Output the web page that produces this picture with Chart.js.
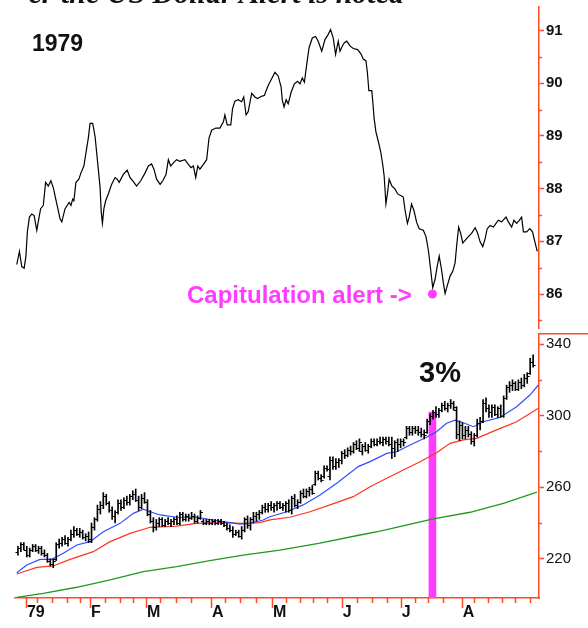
<!DOCTYPE html>
<html><head><meta charset="utf-8">
<script src="https://cdn.jsdelivr.net/npm/chart.js@4.4.1/dist/chart.umd.min.js"></script>
<style>
html,body{margin:0;padding:0;background:#fff;}
#wrap{position:relative;width:588px;height:628px;overflow:hidden;background:#fff;}
canvas{position:absolute;left:0;}
.t{position:absolute;line-height:1;white-space:nowrap;font-family:"Liberation Sans",Arial,sans-serif;font-weight:bold;}
</style></head>
<body><div id="wrap">
<canvas id="topC" width="588" height="333" style="top:0"></canvas>
<canvas id="botC" width="588" height="295" style="top:333px"></canvas>
<div class="t" style="right:184px;top:-22px;font-family:'Liberation Serif',serif;font-style:italic;font-size:30px;color:#111;">er the US Dollar Alert is noted</div>
<div class="t" style="left:32px;top:32px;font-size:23px;color:#111;">1979</div>
<div class="t" style="left:187px;top:283px;font-size:24px;color:#ff3cff;">Capitulation alert -&gt;</div>
<div class="t" style="left:419px;top:358px;font-size:29px;color:#111;">3%</div>
</div>
<script>
// ---- data (x = trading-day index) ----
const dollarDay = [0.6,1.5,2.3,3.1,3.7,4.2,4.9,5.7,6.5,7.4,7.9,8.7,9.6,10.4,11.3,12.2,13.0,14.2,15.3,15.9,17.0,18.4,19.0,19.6,20.0,20.7,21.7,22.4,23.4,24.1,24.9,25.5,26.4,27.2,27.8,28.3,28.9,29.3,29.7,30.2,30.8,31.7,32.8,34.0,34.7,35.4,36.8,38.1,39.1,40.4,41.3,42.7,44.2,45.3,46.4,47.2,48.1,49.3,50.2,51.3,52.1,52.9,53.8,54.9,56.0,57.7,58.9,59.8,60.6,61.4,62.1,62.8,64.0,65.1,65.9,66.8,68.2,69.6,70.8,71.3,72.1,73.3,73.9,74.7,75.8,77.0,77.7,78.5,79.2,80.4,81.5,82.4,83.6,84.7,86.0,87.4,88.3,89.4,90.4,90.8,91.4,92.1,92.8,93.8,94.9,96.0,96.8,97.6,98.3,99.1,99.9,101.0,102.1,103.0,104.2,105.3,106.4,107.2,108.1,108.9,109.8,110.4,111.2,111.9,112.7,113.8,114.9,116.4,117.5,118.3,119.2,119.7,120.2,121.2,121.5,122.0,122.6,123.4,124.2,124.9,125.4,126.0,126.5,127.1,128.0,129.1,130.0,131.0,131.9,132.5,133.3,133.9,134.7,135.5,136.4,137.3,138.7,139.6,140.4,141.2,141.9,142.7,143.4,144.1,144.9,145.5,146.1,146.8,147.8,148.7,149.5,150.0,150.7,151.4,152.1,152.9,154.0,155.1,156.3,157.0,158.0,158.9,159.7,160.4,161.4,162.5,163.4,164.2,165.3,166.8,167.6,168.7,169.5,170.4,171.3,172.1,172.7,173.8,174.9,175.8,176.6,177.4];
const dollarValue = [86.56,86.81,86.52,86.49,86.71,87.18,87.46,87.52,87.49,87.21,87.37,87.62,87.68,88.12,88.05,88.15,88.02,87.71,87.43,87.37,87.62,87.74,87.68,87.80,87.77,88.12,88.18,88.30,88.43,88.68,88.96,89.24,89.24,88.99,88.65,88.37,88.02,87.55,87.34,87.62,87.77,87.90,88.08,88.21,88.18,88.12,88.27,88.35,88.21,88.12,88.05,88.15,88.30,88.43,88.47,88.37,88.18,88.08,88.15,88.27,88.55,88.43,88.49,88.55,88.52,88.55,88.46,88.40,88.43,88.21,88.43,88.37,88.46,88.55,88.96,89.11,89.15,89.15,89.27,89.40,89.21,89.21,89.52,89.66,89.69,89.65,89.74,89.40,89.46,89.81,89.74,89.71,89.75,89.77,89.96,90.11,90.21,90.14,89.93,89.68,89.55,89.69,89.61,89.83,89.99,90.04,89.99,90.10,90.02,90.36,90.68,90.86,90.89,90.80,90.61,90.83,90.93,91.02,90.86,90.55,90.80,90.61,90.71,90.77,90.80,90.71,90.66,90.64,90.56,90.46,90.43,90.21,89.86,89.86,89.68,89.33,89.08,88.90,88.71,88.46,88.24,87.71,87.90,88.18,88.05,87.99,87.90,87.87,87.84,87.59,87.34,87.46,87.71,87.59,87.37,87.24,87.21,87.09,86.84,86.46,86.12,86.28,86.52,86.72,86.46,86.21,86.01,86.15,86.34,86.43,86.59,86.90,87.27,87.15,86.97,87.02,87.09,87.15,87.26,87.18,86.99,86.90,87.05,87.24,87.30,87.27,87.34,87.40,87.37,87.46,87.37,87.27,87.40,87.34,87.40,87.46,87.18,87.18,87.24,87.18,86.99,86.81];

const barOpen  = [224,226,228,225,222,225,227,225,226,223,222,219,217,220,228,229,231,229,231,234,236,234,235,232,233,230,238,242,248,250,255,251,247,244,246,251,249,253,252,255,256,253,249,254,252,245,241,238,240,242,239,241,240,241,242,240,245,242,244,243,244,241,243,241,240,241,240,241,240,241,240,239,237,236,234,235,233,236,242,239,242,244,245,246,249,248,250,249,250,251,249,250,251,247,254,250,252,257,255,258,259,262,268,265,266,271,266,275,272,274,275,279,278,281,280,284,282,280,283,281,283,286,284,286,285,287,286,284,282,285,284,286,288,293,291,293,292,291,290,291,297,300,302,301,303,306,304,306,307,303,290,295,289,292,290,286,289,296,297,307,304,302,305,301,304,300,310,316,317,318,315,319,317,321,324,330];
const barHigh  = [227,229,229,227,226,228,228,227,227,225,223,220,220,229,231,232,233,232,236,238,237,237,236,234,235,240,243,250,252,257,256,252,249,247,253,253,254,255,256,258,259,255,256,257,253,247,243,242,243,243,242,243,242,243,244,246,246,245,245,246,245,244,247,242,242,242,242,242,242,242,241,240,239,238,236,236,238,243,244,243,246,246,247,250,251,251,252,251,252,252,251,252,253,255,256,253,258,259,259,260,261,269,269,267,272,272,277,277,276,276,280,281,282,283,285,286,287,284,285,284,287,287,287,288,288,288,288,288,286,287,287,287,294,294,294,294,294,293,292,298,301,303,305,304,307,308,307,309,308,305,297,296,294,294,291,290,298,299,309,310,306,306,306,305,306,311,317,319,320,319,320,321,323,324,332,334];
const barLow   = [222,224,225,221,221,224,224,223,222,221,218,216,215,219,226,227,228,227,230,232,233,232,231,230,229,229,236,241,245,248,250,246,242,240,245,247,248,250,250,253,252,247,248,251,244,240,235,236,238,238,238,239,238,239,239,239,241,241,241,242,240,240,242,239,239,239,239,239,239,239,238,236,235,232,233,232,231,235,237,236,240,241,242,245,246,246,247,246,247,248,247,246,246,245,249,248,251,254,254,255,256,261,264,263,265,269,264,270,270,271,273,276,277,278,279,281,280,278,280,279,282,283,283,284,283,284,283,276,277,280,282,283,287,289,289,290,289,288,287,290,295,298,299,299,302,303,302,304,303,287,286,287,287,288,284,283,288,292,296,302,299,299,300,299,299,299,309,313,314,314,314,315,316,318,323,327];
const barClose = [226,228,225,222,225,227,225,226,223,222,219,217,219,228,229,231,229,231,234,236,234,235,232,233,231,238,242,248,250,255,251,247,244,246,251,249,253,252,255,256,253,249,254,252,245,241,238,240,242,239,241,240,241,242,240,245,242,244,243,244,241,243,246,240,241,240,241,240,241,240,239,237,236,234,235,233,236,242,239,242,244,245,246,249,248,250,249,250,251,249,250,251,247,254,250,252,257,255,258,259,257,268,265,264,271,270,275,272,274,275,279,278,281,280,284,282,285,283,281,283,286,284,286,285,287,286,284,282,285,284,286,285,293,291,293,292,291,290,289,297,300,302,301,303,306,304,306,307,305,290,295,289,292,290,286,289,296,297,307,304,302,305,301,304,300,310,316,317,318,315,319,317,321,322,330,328];

const blueDay   = [0.6,4.0,8.5,12.5,16.4,21.0,25.5,30.0,35.7,40.2,43.6,45.9,49.3,54.9,61.7,68.5,73.0,76.4,79.8,84.3,86.6,92.3,97.9,103.6,109.3,116.6,120.6,126.3,129.7,134.2,139.8,143.2,146.6,149.5,152.3,155.7,159.1,164.7,170.4,174.9,177.8];
const blueValue = [212.2,216.5,219.7,219.7,223.1,227.7,229.6,235.1,239.8,245.4,247.7,246.3,244.5,243.2,243.2,241.3,240.2,239.4,239.8,241.7,243.5,246.3,250.1,255.6,262.2,271.5,274.3,278.9,279.8,283.6,287.9,291.0,295.7,297.5,296.0,293.8,296.6,299.0,305.0,311.5,317.1];
const redDay    = [0.6,7.4,13.0,18.7,26.6,32.3,39.1,45.9,54.9,61.7,70.8,77.5,83.2,86.6,93.4,100.2,107.0,114.9,120.6,126.3,131.9,137.6,143.2,147.8,152.3,156.8,163.6,170.4,177.8];
const redValue  = [211.5,215.2,216.0,219.7,224.0,229.6,234.2,237.6,238.3,239.8,240.2,239.8,240.2,241.7,243.2,246.3,250.1,254.7,260.3,265.0,269.6,274.2,279.3,284.5,286.4,287.3,292.0,296.6,304.1];
const greenDay  = [0.6,9.6,21.0,32.3,43.6,54.9,66.2,77.5,90.0,103.6,117.2,124.0,142.1,154.6,165.9,177.3];
const greenValue= [198.5,200.7,204.1,208.2,212.8,215.6,219.0,222.1,224.9,228.7,233.3,235.5,242.3,246.0,251.0,257.2];

const alertDay = 141.8;        // capitulation alert day
const alertValue = 86.0;       // dollar level of the alert dot
const alertBarTop = 302;       // top of the magenta 3% marker

const monthTicks  = [3.7,25.5,44.5,66.6,87.3,111.0,131.0,151.8];
const monthLabels = ['79','F','M','A','M','J','J','A'];
const weekTicks   = [7.6,12.7,17.6,22.1,30.6,35.6,40.2,49.3,54.6,59.7,71.3,76.4,81.9,92.0,96.8,101.3,105.9,116.1,121.2,126.3,135.9,140.4,145.5,156.0,160.6,165.3,169.8,174.9];
const topTicks    = [86,87,88,89,90,91];
const topMinor    = [85.5,86.5,87.5,88.5,89.5,90.5];
const botTicks    = [220,260,300,340];
const botMinor    = [240,280,320];

// ---- styling ----
const RED = '#ff4a26', MAG = '#ff3cff', INK = '#111';
const FONT = '"Liberation Sans", Arial, sans-serif';
const X_MIN = 0, X_MAX = 178;

function yAxis(min, max, ticks, weight) {
  return {
    position: 'right', min: min, max: max,
    grid: { drawOnChartArea: false, drawTicks: true, tickLength: 5, tickColor: RED, tickWidth: 1.5 },
    border: { display: true, color: RED, width: 1.5 },
    ticks: { padding: 2, color: INK, font: { family: FONT, size: 15, weight: weight } },
    afterBuildTicks: s => { s.ticks = ticks.map(v => ({ value: v })); },
    afterFit: s => { s.width = 49; s.paddingTop = 0; s.paddingBottom = 0; }
  };
}

const topMinorPlugin = {
  id: 'topMinor',
  afterDraw(chart) {
    const ys = chart.scales.y, ctx = chart.ctx, x0 = chart.chartArea.right;
    ctx.save(); ctx.strokeStyle = RED; ctx.lineWidth = 1.5;
    topMinor.forEach(v => { const y = Math.round(ys.getPixelForValue(v)) + 0.5; ctx.beginPath(); ctx.moveTo(x0, y); ctx.lineTo(x0 + 3, y); ctx.stroke(); });
    ctx.restore();
  }
};

new Chart(document.getElementById('topC'), {
  type: 'line',
  data: { datasets: [
    { data: dollarDay.map((d, k) => ({ x: d, y: dollarValue[k] })), borderColor: '#000', borderWidth: 1.2, pointRadius: 0, tension: 0, order: 1 },
    { type: 'scatter', data: [{ x: alertDay, y: alertValue }], pointRadius: 4.5, pointBackgroundColor: MAG, pointBorderWidth: 0, order: 0 }
  ]},
  options: {
    responsive: false, animation: false, events: [],
    layout: { padding: { left: 15, top: 7, right: 0, bottom: 0 } },
    plugins: { legend: { display: false }, tooltip: { enabled: false } },
    scales: {
      x: { type: 'linear', min: X_MIN, max: X_MAX, display: false },
      y: yAxis(85.345, 91.449, topTicks, 'bold')
    }
  },
  plugins: [topMinorPlugin]
});

const botPlugin = {
  id: 'botExtras',
  afterDatasetsDraw(chart) {
    const xs = chart.scales.x, ys = chart.scales.y, ctx = chart.ctx;
    ctx.save(); ctx.strokeStyle = '#000'; ctx.lineWidth = 1;
    barOpen.forEach((o, k) => {
      const x = xs.getPixelForValue(k + 1);
      const yo = Math.round(ys.getPixelForValue(o)) + 0.5, yc = Math.round(ys.getPixelForValue(barClose[k])) + 0.5;
      ctx.beginPath(); ctx.moveTo(x - 2.5, yo); ctx.lineTo(x, yo); ctx.moveTo(x, yc); ctx.lineTo(x + 2.5, yc); ctx.stroke();
    });
    ctx.restore();
  },
  afterDraw(chart) {
    const xs = chart.scales.x, ys = chart.scales.y, ctx = chart.ctx, a = chart.chartArea;
    ctx.save(); ctx.strokeStyle = RED; ctx.lineWidth = 1.5;
    const yb = a.bottom;
    monthTicks.forEach(v => { const x = Math.round(xs.getPixelForValue(v)) + 0.5; ctx.beginPath(); ctx.moveTo(x, yb); ctx.lineTo(x, yb + 10); ctx.stroke(); });
    weekTicks.forEach(v => { const x = Math.round(xs.getPixelForValue(v)) + 0.5; ctx.beginPath(); ctx.moveTo(x, yb); ctx.lineTo(x, yb + 5); ctx.stroke(); });
    botMinor.forEach(v => { const y = Math.round(ys.getPixelForValue(v)) + 0.5; ctx.beginPath(); ctx.moveTo(a.right, y); ctx.lineTo(a.right + 3, y); ctx.stroke(); });
    // separator between the panels
    ctx.beginPath(); ctx.moveTo(a.right, a.top + 0.75); ctx.lineTo(chart.width, a.top + 0.75); ctx.stroke();
    ctx.restore();
  }
};

new Chart(document.getElementById('botC'), {
  type: 'line',
  data: { datasets: [
    { type: 'bar', data: [{ x: alertDay, y: [198.1, alertBarTop] }], backgroundColor: MAG, barThickness: 7, grouped: false, order: 10 },
    { type: 'bar', data: barHigh.map((h, k) => ({ x: k + 1, y: [barLow[k], h] })), backgroundColor: '#000', barThickness: 1, grouped: false, order: 1 },
    { data: greenDay.map((d, k) => ({ x: d, y: greenValue[k] })), borderColor: '#1f9a1f', borderWidth: 1.3, pointRadius: 0, order: 4 },
    { data: redDay.map((d, k) => ({ x: d, y: redValue[k] })), borderColor: '#ff3322', borderWidth: 1.2, pointRadius: 0, order: 3 },
    { data: blueDay.map((d, k) => ({ x: d, y: blueValue[k] })), borderColor: '#2f4dff', borderWidth: 1.2, pointRadius: 0, order: 2 }
  ]},
  options: {
    responsive: false, animation: false, events: [],
    layout: { padding: { left: 15, top: 0, right: 0, bottom: 0 } },
    plugins: { legend: { display: false }, tooltip: { enabled: false } },
    scales: {
      x: {
        type: 'linear', min: X_MIN, max: X_MAX, offset: false, position: 'bottom',
        grid: { drawOnChartArea: false, drawTicks: false },
        border: { display: true, color: RED, width: 1.5 },
        ticks: { align: 'start', labelOffset: 1, padding: 5, maxRotation: 0, autoSkip: false, color: INK,
                 font: { family: FONT, size: 16, weight: 'bold' },
                 callback: (v, i) => monthLabels[i] },
        afterBuildTicks: s => { s.ticks = monthTicks.map(v => ({ value: v })); },
        afterFit: s => { s.height = 30; s.paddingLeft = 0; s.paddingRight = 0; }
      },
      y: yAxis(198.1, 346.15, botTicks, 'normal')
    }
  },
  plugins: [botPlugin]
});
</script>
</body></html>
